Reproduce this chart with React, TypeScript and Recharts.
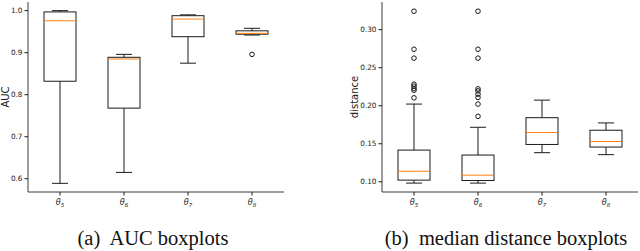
import { ComposedChart, Bar, Scatter, XAxis, YAxis } from 'recharts';

// categories
const thetas = ['θ5', 'θ6', 'θ7', 'θ8'];

// (a) AUC boxplots
const aucLow = [0.589, 0.615, 0.875, 0.942];
const aucQ1 = [0.832, 0.768, 0.938, 0.944];
const aucMed = [0.976, 0.885, 0.98, 0.946];
const aucQ3 = [0.997, 0.889, 0.988, 0.952];
const aucHigh = [1.0, 0.896, 0.99, 0.958];
const aucOutlierCat = ['θ8'];
const aucOutlierVal = [0.896];
const aucTicks = [0.6, 0.7, 0.8, 0.9, 1.0];

// (b) median distance boxplots
const distLow = [0.0983, 0.0983, 0.1383, 0.1357];
const distQ1 = [0.1022, 0.1017, 0.1491, 0.1457];
const distMed = [0.1139, 0.1087, 0.1648, 0.153];
const distQ3 = [0.1417, 0.1352, 0.1843, 0.1678];
const distHigh = [0.2022, 0.1717, 0.2074, 0.1774];
const distOutlierCat = [
  'θ5', 'θ5', 'θ5', 'θ5', 'θ5', 'θ5', 'θ5', 'θ5',
  'θ6', 'θ6', 'θ6', 'θ6', 'θ6', 'θ6', 'θ6', 'θ6', 'θ6',
];
const distOutlierVal = [
  0.3243, 0.2743, 0.2626, 0.2283, 0.2257, 0.2226, 0.2204, 0.2104,
  0.3243, 0.2743, 0.2626, 0.2222, 0.2196, 0.2152, 0.2109, 0.2022, 0.1861,
];
const distTicks = [0.1, 0.15, 0.2, 0.25, 0.3];

const INK = '#1a1a1a';
const FRAME = '#3a3a3a';
const ORANGE = '#ff7f0e';

const makeRows = (lo: number[], q1: number[], med: number[], q3: number[], hi: number[]) =>
  thetas.map((name, i) => ({ name, lo: lo[i], q1: q1[i], med: med[i], q3: q3[i], hi: hi[i] }));

const makeOutliers = (cats: string[], vals: number[]) =>
  cats.map((name, i) => ({ name, v: vals[i] }));

const Whisker = (p: any) => {
  const { x, y, width, height } = p;
  const cx = x + width / 2;
  return (
    <g stroke={INK} strokeWidth={1}>
      <line x1={cx} x2={cx} y1={y} y2={y + height} />
      <line x1={x} x2={x + width} y1={y} y2={y} />
      <line x1={x} x2={x + width} y1={y + height} y2={y + height} />
    </g>
  );
};

const Box = (p: any) => {
  const { x, y, width, height } = p;
  return <rect x={x} y={y} width={width} height={Math.max(height, 0.5)} fill="#fff" stroke={INK} strokeWidth={1} />;
};

const MedianLine = (p: any) => {
  const { cx, cy } = p;
  return <line x1={cx - 16} x2={cx + 16} y1={cy} y2={cy} stroke={ORANGE} strokeWidth={1} />;
};

const Flier = (p: any) => {
  const { cx, cy } = p;
  return <circle cx={cx} cy={cy} r={2.3} fill="none" stroke={INK} strokeWidth={1} />;
};

const ThetaTick = (p: any) => {
  const { x, y, payload } = p;
  const label = String(payload.value);
  return (
    <text x={x} y={y} dy={7} textAnchor="middle" fontFamily="DejaVu Sans" fontStyle="italic" fontSize={8} fill={INK}>
      {label.slice(0, 1)}
      <tspan fontSize={5.5} dy={2}>{label.slice(1)}</tspan>
    </text>
  );
};

interface PanelProps {
  rows: ReturnType<typeof makeRows>;
  outliers: { name: string; v: number }[];
  domain: [number, number];
  ticks: number[];
  digits: number;
  ylabel: string;
  yAxisWidth: number;
  labelOffset: number;
  width: number;
  marginRight: number;
}

function Panel({ rows, outliers, domain, ticks, digits, ylabel, yAxisWidth, labelOffset, width, marginRight }: PanelProps) {
  return (
    <ComposedChart
      width={width}
      height={218}
      data={rows}
      margin={{ top: 2, right: marginRight, bottom: 0, left: 0 }}
    >
      <XAxis
        xAxisId={0}
        dataKey="name"
        allowDuplicatedCategory={false}
        height={26}
        tickSize={3.5}
        tickMargin={2}
        tick={<ThetaTick />}
        tickLine={{ stroke: INK }}
        axisLine={{ stroke: FRAME }}
      />
      <XAxis
        xAxisId="b"
        dataKey="name"
        orientation="top"
        allowDuplicatedCategory={false}
        height={0}
        tick={false}
        tickLine={false}
        axisLine={{ stroke: FRAME }}
      />
      <YAxis
        domain={domain}
        ticks={ticks}
        allowDataOverflow
        width={yAxisWidth}
        tickSize={3.5}
        tickMargin={2}
        tickFormatter={(v: number) => v.toFixed(digits)}
        tick={{ fontSize: 7.3, fill: INK, fontFamily: 'DejaVu Sans' }}
        tickLine={{ stroke: INK }}
        axisLine={{ stroke: FRAME }}
        label={{
          value: ylabel,
          angle: -90,
          position: 'insideLeft',
          offset: labelOffset,
          style: { textAnchor: 'middle', fontSize: 10, fill: INK, fontFamily: 'DejaVu Sans' },
        }}
      />
      <YAxis
        yAxisId="r"
        orientation="right"
        domain={domain}
        width={0}
        tick={false}
        tickLine={false}
        axisLine={{ stroke: FRAME }}
      />
      <Bar
        xAxisId={0}
        dataKey={(d: any) => [d.lo, d.hi]}
        barSize={16}
        shape={<Whisker />}
        isAnimationActive={false}
      />
      <Bar
        xAxisId="b"
        dataKey={(d: any) => [d.q1, d.q3]}
        barSize={32}
        shape={<Box />}
        isAnimationActive={false}
      />
      <Scatter xAxisId={0} dataKey="med" shape={<MedianLine />} isAnimationActive={false} />
      <Scatter xAxisId={0} data={outliers} dataKey="v" shape={<Flier />} isAnimationActive={false} />
    </ComposedChart>
  );
}

const captionStyle: React.CSSProperties = {
  position: 'absolute',
  top: 227.5,
  fontFamily: "'Liberation Serif', 'Times New Roman', Times, 'DejaVu Serif', serif",
  fontSize: 20.5,
  lineHeight: 1,
  whiteSpace: 'pre',
  textAlign: 'center',
  color: '#111',
};

export default function App() {
  return (
    <div style={{ position: 'absolute', left: 0, top: 0, width: 640, height: 251, background: '#fff', overflow: 'hidden' }}>
      <div style={{ position: 'absolute', left: 0, top: 0 }}>
        <Panel
          rows={makeRows(aucLow, aucQ1, aucMed, aucQ3, aucHigh)}
          outliers={makeOutliers(aucOutlierCat, aucOutlierVal)}
          domain={[0.5684, 1.0206]}
          ticks={aucTicks}
          digits={1}
          ylabel="AUC"
          yAxisWidth={28}
          labelOffset={5}
          width={300}
          marginRight={16}
        />
      </div>
      <div style={{ position: 'absolute', left: 320, top: 0 }}>
        <Panel
          rows={makeRows(distLow, distQ1, distMed, distQ3, distHigh)}
          outliers={makeOutliers(distOutlierCat, distOutlierVal)}
          domain={[0.0866, 0.3364]}
          ticks={distTicks}
          digits={2}
          ylabel="distance"
          yAxisWidth={62}
          labelOffset={34}
          width={320}
          marginRight={2}
        />
      </div>
      <div style={{ ...captionStyle, left: 53, width: 200 }}>(a)  AUC boxplots</div>
      <div style={{ ...captionStyle, left: 376, width: 260 }}>(b)  median distance boxplots</div>
    </div>
  );
}
